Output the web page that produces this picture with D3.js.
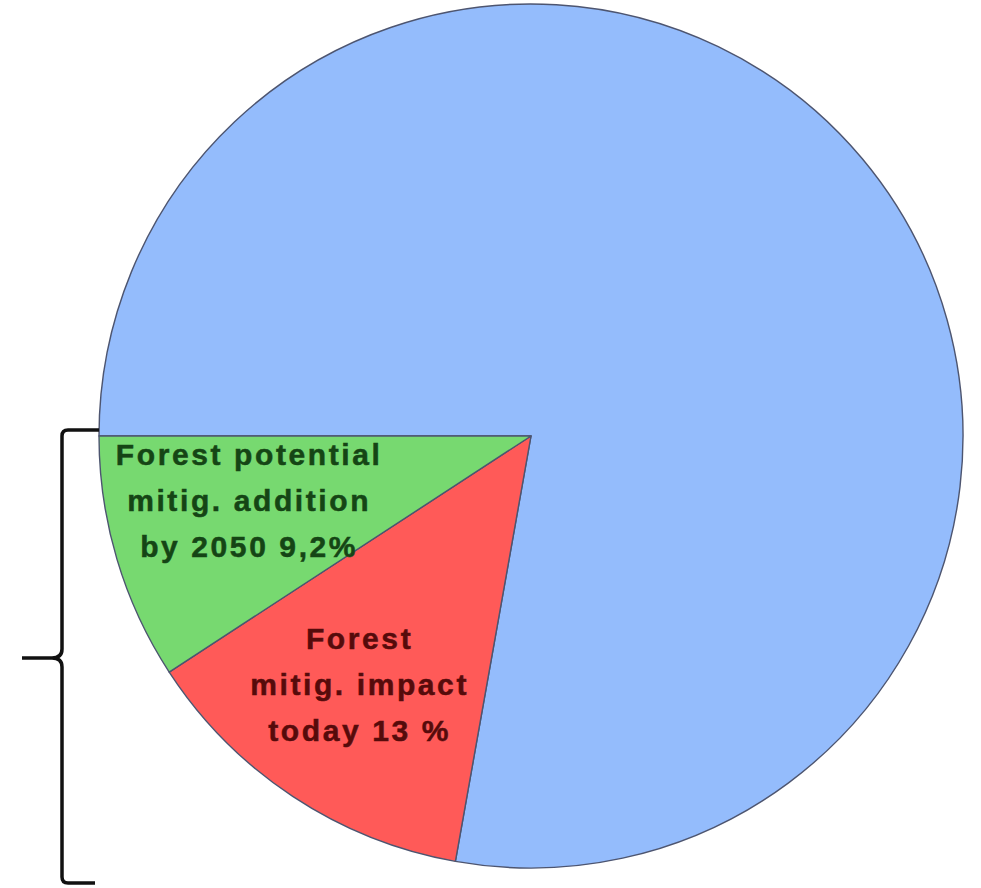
<!DOCTYPE html>
<html>
<head>
<meta charset="utf-8">
<script src="https://cdn.jsdelivr.net/npm/d3@7"></script>
<style>
  html, body { margin: 0; padding: 0; background: #ffffff; }
  svg { display: block; }
</style>
</head>
<body>
<svg id="chart" width="981" height="888"></svg>
<script>
// Share of mitigation, in percent
const categories = ["Other", "Forest mitig. impact today", "Forest potential mitig. addition by 2050"];
const values = [77.8, 13, 9.2];
const sliceColors = ["#94bcfc", "#ff5a58", "#77d970"];
const labelLines = [
  [],
  ["Forest", "mitig. impact", "today 13 %"],
  ["Forest potential", "mitig. addition", "by 2050 9,2%"]
];
const labelColors = ["#000", "#560b0b", "#154515"];

const width = 981, height = 888;
const cx = 531, cy = 436, radius = 432;

const svg = d3.select("#chart");
const g = svg.append("g").attr("transform", `translate(${cx},${cy})`);

const data = categories.map((c, i) => ({ name: c, value: values[i], i }));

// Start at 9 o'clock and run clockwise
const pie = d3.pie()
  .value(d => d.value)
  .sort(null)
  .startAngle(-Math.PI / 2)
  .endAngle(3 * Math.PI / 2);

const arc = d3.arc().innerRadius(0).outerRadius(radius);
const labelArc = d3.arc().innerRadius(radius * 0.708).outerRadius(radius * 0.708);

const arcs = pie(data);

g.selectAll("path.slice")
  .data(arcs)
  .join("path")
  .attr("class", "slice")
  .attr("d", arc)
  .attr("fill", d => sliceColors[d.data.i])
  .attr("stroke", "#4d5570")
  .attr("stroke-width", 1.4)
  .attr("stroke-linejoin", "round");

// Small nudges for the label blocks
const labelShift = { 1: [-4, -7], 2: [10, -23] };
const fontSize = 30, lineGap = 46;

arcs.forEach(a => {
  const lines = labelLines[a.data.i];
  if (!lines.length) return;
  const [lx, ly] = labelArc.centroid(a);
  const [sx, sy] = labelShift[a.data.i] || [0, 0];
  const t = g.append("text")
    .attr("x", lx + sx)
    .attr("y", ly + sy)
    .attr("text-anchor", "middle")
    .attr("font-family", "'Liberation Sans', Arial, sans-serif")
    .attr("font-weight", "bold")
    .attr("font-size", fontSize)
    .attr("letter-spacing", 2.6)
    .attr("fill", labelColors[a.data.i])
    .attr("stroke", labelColors[a.data.i])
    .attr("stroke-width", 0.5);
  lines.forEach((line, k) => {
    t.append("tspan")
      .attr("x", lx + sx + 1.3)
      .attr("y", ly + sy + (k - (lines.length - 1) / 2) * lineGap + fontSize * 0.36)
      .text(line);
  });
});

// Curly brace grouping the two forest shares
const braceTop = cy - 6, braceBottom = 883, braceX = 62, braceTip = 22;
const braceMid = 658;
const bp = d3.path();
bp.moveTo(cx - radius, braceTop);
bp.lineTo(braceX + 6, braceTop);
bp.quadraticCurveTo(braceX, braceTop, braceX, braceTop + 6);
bp.lineTo(braceX, braceMid - 9);
bp.quadraticCurveTo(braceX, braceMid, braceX - 10, braceMid);
bp.lineTo(braceTip, braceMid);
bp.moveTo(braceX - 10, braceMid);
bp.quadraticCurveTo(braceX, braceMid, braceX, braceMid + 9);
bp.lineTo(braceX, braceBottom - 6);
bp.quadraticCurveTo(braceX, braceBottom, braceX + 6, braceBottom);
bp.lineTo(95, braceBottom);

svg.append("path")
  .attr("d", bp.toString())
  .attr("fill", "none")
  .attr("stroke", "#111")
  .attr("stroke-width", 3.5)
  .attr("stroke-linecap", "butt");
</script>
</body>
</html>
